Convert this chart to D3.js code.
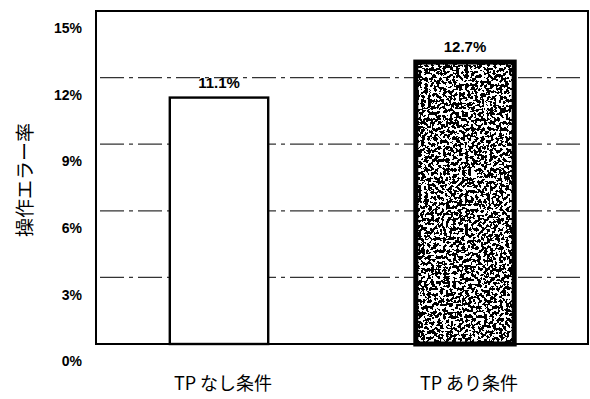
<html>
<head>
<script src="https://d3js.org/d3.v7.min.js"></script>
<style>
body { margin: 0; background: #fff; }
</style>
</head>
<body>
<script>
// chart values
var categories = ["TP なし条件", "TP あり条件"];
var errorRate = [11.1, 12.7];
var yTicks = [0, 3, 6, 9, 12, 15];
var yTitle = "操作エラー率";

var W = 590, H = 399;
var svg = d3.select("body").append("svg")
	.attr("width", W).attr("height", H);

var pLeft = 96, pRight = 588, pTop = 11, pBottom = 344;

var x = d3.scaleBand().domain(categories).range([pLeft, pRight]).paddingInner(0.6).paddingOuter(0.3);
var y = d3.scaleLinear().domain([0, 15]).range([pBottom, pTop]);

// speckle texture for the second bar
var defs = svg.append("defs");
var f = defs.append("filter").attr("id", "speckle")
	.attr("x", 0).attr("y", 0).attr("width", 1).attr("height", 1);
f.append("feTurbulence").attr("type", "fractalNoise").attr("baseFrequency", 0.32)
	.attr("numOctaves", 2).attr("seed", 11).attr("result", "n");
f.append("feColorMatrix").attr("type", "matrix")
	.attr("values", "0 0 0 0 0  0 0 0 0 0  0 0 0 0 0  -1 0 0 0 1.0");
f.append("feComponentTransfer").append("feFuncA").attr("type", "discrete").attr("tableValues", "0 1");

// gridlines (dash-dot)
svg.append("g").selectAll("line")
	.data(yTicks.filter(function(d) { return d > 0 && d < 15; }))
	.enter().append("line")
	.attr("x1", pLeft + 4).attr("x2", pRight - 4)
	.attr("y1", function(d) { return y(d); })
	.attr("y2", function(d) { return y(d); })
	.attr("stroke", "#333").attr("stroke-width", 1.3)
	.attr("stroke-dasharray", "24 5 4 5");

// y tick labels (sit a bit below their lines, as in the original)
var yAxis = d3.axisLeft(y).tickValues(yTicks).tickSize(0).tickPadding(14)
	.tickFormat(function(d) { return d + "%"; });
var ga = svg.append("g").attr("transform", "translate(" + pLeft + ",0)").call(yAxis);
ga.select(".domain").remove();
ga.selectAll("text")
	.attr("dy", "1.55em")
	.style("font-family", "'Liberation Sans', Arial, sans-serif")
	.style("font-size", "14px").style("font-weight", "bold").style("fill", "#000");

// bars
var bars = svg.append("g");
bars.selectAll("rect.bg").data(errorRate).enter().append("rect")
	.attr("x", function(d, i) { return x(categories[i]); })
	.attr("y", function(d) { return y(d); })
	.attr("width", x.bandwidth())
	.attr("height", function(d) { return pBottom - y(d); })
	.attr("fill", "#fff");
bars.selectAll("rect.tex").data(errorRate.slice(1)).enter().append("rect")
	.attr("x", x(categories[1]))
	.attr("y", function(d) { return y(d); })
	.attr("width", x.bandwidth())
	.attr("height", function(d) { return pBottom - y(d); })
	.attr("fill", "#000").attr("filter", "url(#speckle)");
bars.selectAll("rect.edge").data(errorRate).enter().append("rect")
	.attr("x", function(d, i) { return x(categories[i]); })
	.attr("y", function(d) { return y(d); })
	.attr("width", x.bandwidth())
	.attr("height", function(d) { return pBottom - y(d); })
	.attr("fill", "none").attr("stroke", "#000")
	.attr("stroke-width", function(d, i) { return i == 0 ? 2.4 : 5; });

// value labels
svg.append("g").selectAll("text").data(errorRate).enter().append("text")
	.attr("x", function(d, i) { return x(categories[i]) + x.bandwidth() / 2; })
	.attr("y", function(d) { return y(d) - 10; })
	.attr("text-anchor", "middle")
	.style("font-family", "'Liberation Sans', Arial, sans-serif")
	.style("font-size", "15px").style("font-weight", "bold")
	.text(function(d) { return d.toFixed(1) + "%"; });

// frame
svg.append("rect").attr("x", pLeft).attr("y", pTop)
	.attr("width", pRight - pLeft).attr("height", pBottom - pTop)
	.attr("fill", "none").attr("stroke", "#000").attr("stroke-width", 2);

// category labels
svg.append("g").selectAll("text").data(categories).enter().append("text")
	.attr("x", function(d) { return x(d) + x.bandwidth() / 2 + 4; })
	.attr("y", 390)
	.attr("text-anchor", "middle")
	.style("font-family", "'Noto Sans CJK JP', sans-serif")
	.style("font-size", "18px")
	.text(function(d) { return d; });

// y title
svg.append("text")
	.attr("transform", "translate(32,180) rotate(-90)")
	.attr("text-anchor", "middle")
	.style("font-family", "'Noto Sans CJK JP', sans-serif")
	.style("font-size", "19px")
	.text(yTitle);
</script>
</body>
</html>
